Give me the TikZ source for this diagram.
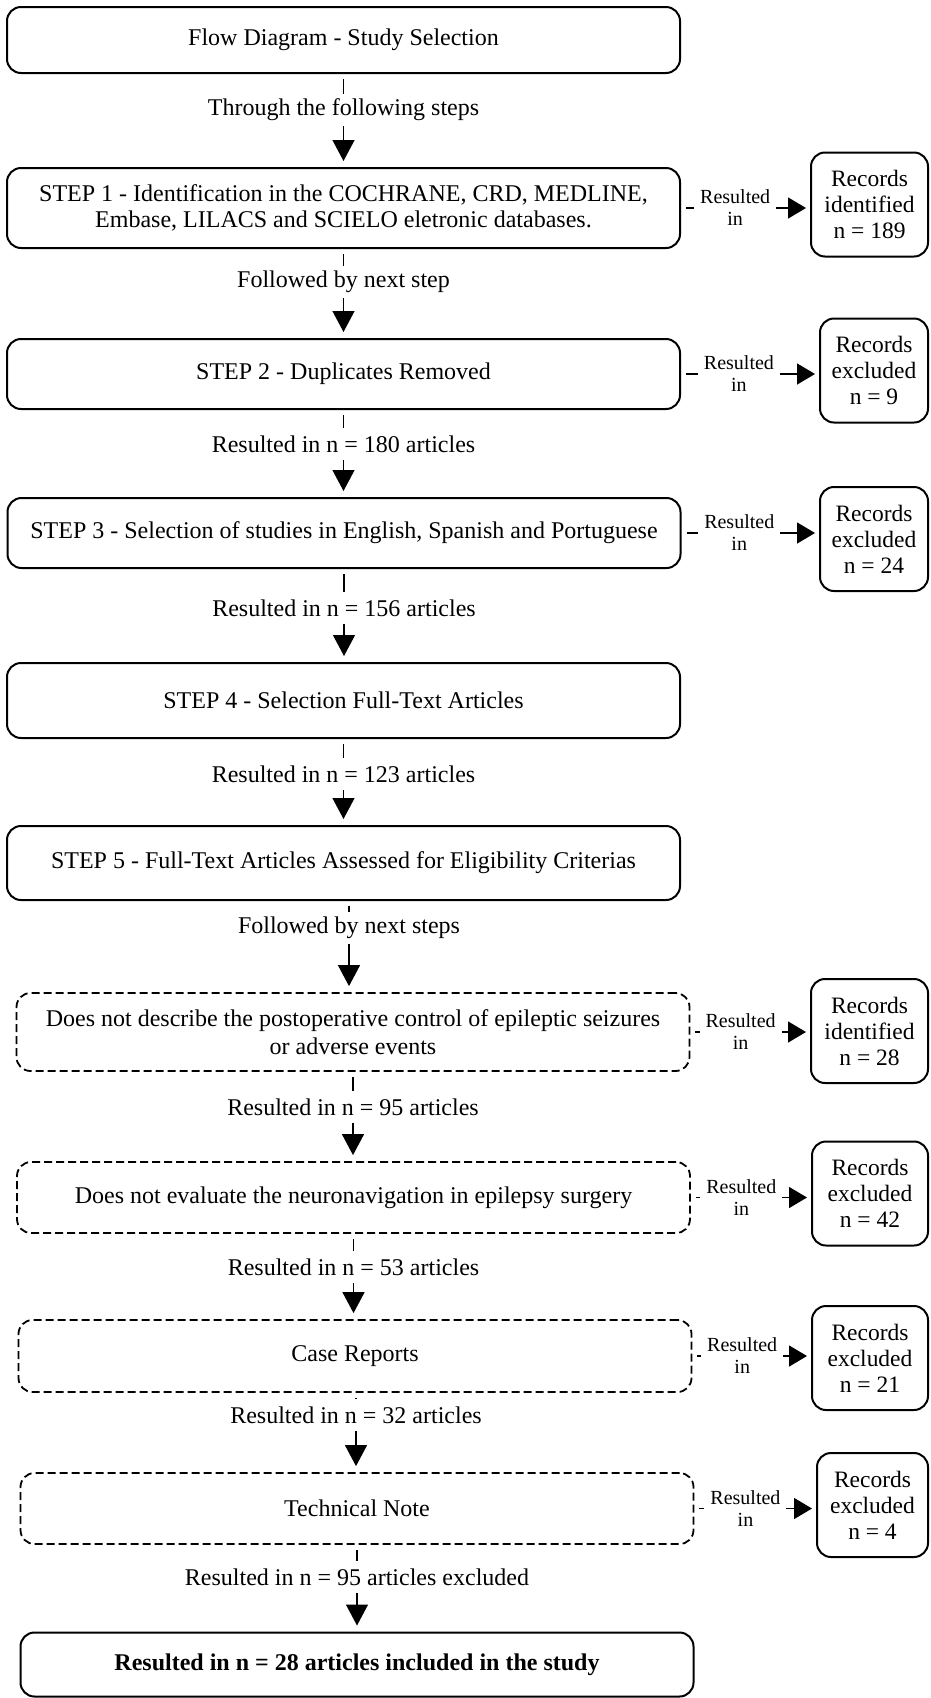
\documentclass[tikz,border=0pt]{standalone}
\usepackage{fontspec}
\setmainfont{Liberation Serif}
\usetikzlibrary{arrows.meta,positioning}
\tikzset{
    step box/.style = {
        draw, line width=2pt, rounded corners=14pt,
        minimum width=673pt, align=center,
        font=\fontsize{24}{28}\selectfont,
        },
    filter box/.style = {
        step box, line width=1.8pt,
        dash pattern=on 8pt off 4pt,
        },
    record box/.style = {
        draw, line width=2pt, rounded corners=14pt,
        minimum width=117pt, minimum height=104pt,
        anchor=east, align=center,
        font=\fontsize{23.5}{26}\selectfont,
        },
    flow label/.style = {
        font=\fontsize{24}{28}\selectfont,
        minimum height=32pt, inner sep=0pt,
        },
    resulted/.style = {
        fill=white, align=center, pos=0.42,
        inner xsep=6pt, inner ysep=0pt,
        font=\fontsize{20}{22}\selectfont,
        },
    tick/.style = {
        line width=1.3pt, shorten <=5pt,
        },
    flow/.style = {
        line width=1.3pt, shorten >=6pt,
        -{Triangle[length=21pt,width=22pt]},
        },
    side/.style = {
        line width=1.5pt, shorten <=5pt, shorten >=4pt,
        -{Triangle[length=18pt,width=21pt]},
        },
}

\begin{document}
\begin{tikzpicture}[x=1pt,y=-1pt]
    \useasboundingbox (0,0) rectangle (931,1698);

    % main steps
    \node[step box, minimum height=66pt] (title) at (343.5,40) {Flow Diagram - Study Selection};
    \node[step box, minimum height=80pt, font=\fontsize{24}{26}\selectfont] (s1) at (343.5,208)
        {STEP 1 - Identification in the COCHRANE, CRD, MEDLINE,\\Embase, LILACS and SCIELO eletronic databases.};
    \node[step box, minimum height=70pt] (s2) at (343.5,374) {STEP 2 - Duplicates Removed};
    \node[step box, minimum height=70pt] (s3) at (344,533) {STEP 3 - Selection of studies in English, Spanish and Portuguese};
    \node[step box, minimum height=75pt] (s4) at (343.5,700.5) {STEP 4 - Selection Full-Text Articles};
    \node[step box, minimum height=74pt] (s5) at (343.5,863) {STEP 5 - Full-Text Articles Assessed for Eligibility Criterias};

    % exclusion filters
    \node[filter box, minimum height=78pt, font=\fontsize{24}{28}\selectfont] (d1) at (353,1032)
        {Does not describe the postoperative control of epileptic seizures\\or adverse events};
    \node[filter box, minimum height=71pt] (d2) at (353.5,1197.5) {Does not evaluate the neuronavigation in epilepsy surgery};
    \node[filter box, minimum height=72pt] (d3) at (355,1356) {Case Reports};
    \node[filter box, minimum height=71pt] (d4) at (357,1508.5) {Technical Note};
    \node[step box, minimum height=64pt] (final) at (357,1664.5)
        {\textbf{Resulted in n = 28 articles included in the study}};

    % labels between boxes
    \node[flow label] (l0) at (343.5,110) {Through the following steps};
    \node[flow label] (l1) at (343.5,282) {Followed by next step};
    \node[flow label] (l2) at (343.5,444) {Resulted in n = 180 articles};
    \node[flow label] (l3) at (344,608) {Resulted in n = 156 articles};
    \node[flow label] (l4) at (343.5,774) {Resulted in n = 123 articles};
    \node[flow label] (l5) at (349,928) {Followed by next steps};
    \node[flow label] (l6) at (353,1107) {Resulted in n = 95 articles};
    \node[flow label] (l7) at (353.5,1267) {Resulted in n = 53 articles};
    \node[flow label] (l8) at (356,1415) {Resulted in n = 32 articles};
    \node[flow label] (l9) at (357,1577) {Resulted in n = 95 articles excluded};

    % records
    \node[record box] (r1) at (929,204.5) {Records\\identified\\n = 189};
    \node[record box, minimum width=108pt] (r2) at (929,370.5) {Records\\excluded\\n = 9};
    \node[record box, minimum width=108pt] (r3) at (929,539) {Records\\excluded\\n = 24};
    \node[record box] (r4) at (929,1031) {Records\\identified\\n = 28};
    \node[record box, minimum width=116pt] (r5) at (929,1193.5) {Records\\excluded\\n = 42};
    \node[record box, minimum width=116pt] (r6) at (929,1358) {Records\\excluded\\n = 21};
    \node[record box, minimum width=111pt] (r7) at (929,1505) {Records\\excluded\\n = 4};

    % down the column
    \draw[tick] (title.south -| l0) -- (l0);
    \draw[flow] (l0) -- (l0 |- s1.north);
    \draw[tick] (s1.south -| l1) -- (l1);
    \draw[flow] (l1) -- (l1 |- s2.north);
    \draw[tick] (s2.south -| l2) -- (l2);
    \draw[flow] (l2) -- (l2 |- s3.north);
    \draw[tick] (s3.south -| l3) -- (l3);
    \draw[flow] (l3) -- (l3 |- s4.north);
    \draw[tick] (s4.south -| l4) -- (l4);
    \draw[flow] (l4) -- (l4 |- s5.north);
    \draw[tick] (s5.south -| l5) -- (l5);
    \draw[flow] (l5) -- (l5 |- d1.north);
    \draw[tick] (d1.south -| l6) -- (l6);
    \draw[flow] (l6) -- (l6 |- d2.north);
    \draw[tick] (d2.south -| l7) -- (l7);
    \draw[flow] (l7) -- (l7 |- d3.north);
    \draw[tick] (d3.south -| l8) -- (l8);
    \draw[flow] (l8) -- (l8 |- d4.north);
    \draw[tick] (d4.south -| l9) -- (l9);
    \draw[flow] (l9) -- (l9 |- final.north);

    % out to the records
    \draw[side] (s1.east) -- node[resulted] {Resulted\\in} (s1.east -| r1.west);
    \draw[side] (s2.east) -- node[resulted] {Resulted\\in} (s2.east -| r2.west);
    \draw[side] (s3.east) -- node[resulted] {Resulted\\in} (s3.east -| r3.west);
    \draw[side] (d1.east) -- node[resulted] {Resulted\\in} (d1.east -| r4.west);
    \draw[side] (d2.east) -- node[resulted] {Resulted\\in} (d2.east -| r5.west);
    \draw[side] (d3.east) -- node[resulted] {Resulted\\in} (d3.east -| r6.west);
    \draw[side] (d4.east) -- node[resulted] {Resulted\\in} (d4.east -| r7.west);
\end{tikzpicture}
\end{document}
